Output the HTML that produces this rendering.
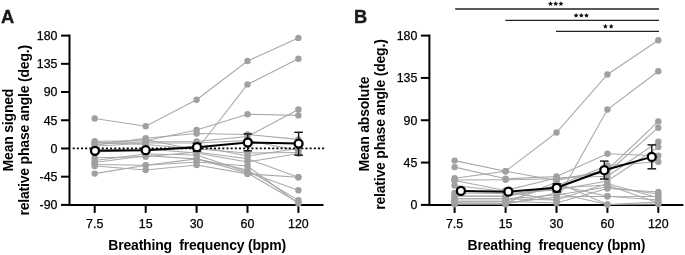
<!DOCTYPE html>
<html><head><meta charset="utf-8"><style>
html,body{margin:0;padding:0;background:#fff;}
svg{display:block;will-change:transform;}
text{font-family:"Liberation Sans",sans-serif;fill:#000;}
.tl{font-size:12.4px;stroke:#000;stroke-width:0.25px;}
.ti{font-size:14px;font-weight:bold;white-space:pre;letter-spacing:-0.2px;}
.pl{font-size:18.3px;font-weight:bold;fill:#1a1a1a;stroke:#1a1a1a;stroke-width:0.35px;}
.st{font-size:13px;font-weight:bold;letter-spacing:0.5px;}
</style></head><body>
<svg width="685" height="255" viewBox="0 0 685 255">
<text x="1" y="22.5" class="pl">A</text>
<text x="354" y="22.5" class="pl">B</text>
<g transform="translate(12.7,130.1) rotate(-90)"><text x="0" y="0" text-anchor="middle" class="ti">Mean signed</text></g>
<g transform="translate(29.0,130.3) rotate(-90)"><text x="0" y="0" text-anchor="middle" class="ti">relative phase angle (deg.)</text></g>
<g transform="translate(368.6,124.1) rotate(-90)"><text x="0" y="0" text-anchor="middle" class="ti">Mean absolute</text></g>
<g transform="translate(384.8,124.6) rotate(-90)"><text x="0" y="0" text-anchor="middle" class="ti">relative phase angle (deg.)</text></g>
<line x1="69.5" y1="34.6" x2="69.5" y2="205.9" stroke="#000" stroke-width="2"/>
<line x1="61.0" y1="35.60" x2="69.5" y2="35.60" stroke="#000" stroke-width="2"/>
<text x="57.5" y="39.90" text-anchor="end" class="tl">180</text>
<line x1="61.0" y1="63.82" x2="69.5" y2="63.82" stroke="#000" stroke-width="2"/>
<text x="57.5" y="68.12" text-anchor="end" class="tl">135</text>
<line x1="61.0" y1="92.03" x2="69.5" y2="92.03" stroke="#000" stroke-width="2"/>
<text x="57.5" y="96.33" text-anchor="end" class="tl">90</text>
<line x1="61.0" y1="120.25" x2="69.5" y2="120.25" stroke="#000" stroke-width="2"/>
<text x="57.5" y="124.55" text-anchor="end" class="tl">45</text>
<line x1="61.0" y1="148.47" x2="69.5" y2="148.47" stroke="#000" stroke-width="2"/>
<text x="57.5" y="152.77" text-anchor="end" class="tl">0</text>
<line x1="61.0" y1="176.68" x2="69.5" y2="176.68" stroke="#000" stroke-width="2"/>
<text x="57.5" y="180.98" text-anchor="end" class="tl">-45</text>
<line x1="61.0" y1="204.90" x2="69.5" y2="204.90" stroke="#000" stroke-width="2"/>
<text x="57.5" y="209.20" text-anchor="end" class="tl">-90</text>
<line x1="68.5" y1="204.9" x2="323.5" y2="204.9" stroke="#000" stroke-width="2"/>
<line x1="94.7" y1="204.9" x2="94.7" y2="212.9" stroke="#000" stroke-width="2"/>
<text x="94.7" y="227.5" text-anchor="middle" class="tl">7.5</text>
<line x1="145.7" y1="204.9" x2="145.7" y2="212.9" stroke="#000" stroke-width="2"/>
<text x="145.7" y="227.5" text-anchor="middle" class="tl">15</text>
<line x1="196.6" y1="204.9" x2="196.6" y2="212.9" stroke="#000" stroke-width="2"/>
<text x="196.6" y="227.5" text-anchor="middle" class="tl">30</text>
<line x1="247.5" y1="204.9" x2="247.5" y2="212.9" stroke="#000" stroke-width="2"/>
<text x="247.5" y="227.5" text-anchor="middle" class="tl">60</text>
<line x1="298.4" y1="204.9" x2="298.4" y2="212.9" stroke="#000" stroke-width="2"/>
<text x="298.4" y="227.5" text-anchor="middle" class="tl">120</text>
<text x="197.1" y="249.7" text-anchor="middle" class="ti">Breathing  frequency (bpm)</text>
<line x1="429.4" y1="34.6" x2="429.4" y2="205.9" stroke="#000" stroke-width="2"/>
<line x1="420.9" y1="35.60" x2="429.4" y2="35.60" stroke="#000" stroke-width="2"/>
<text x="417.4" y="39.90" text-anchor="end" class="tl">180</text>
<line x1="420.9" y1="77.93" x2="429.4" y2="77.93" stroke="#000" stroke-width="2"/>
<text x="417.4" y="82.23" text-anchor="end" class="tl">135</text>
<line x1="420.9" y1="120.25" x2="429.4" y2="120.25" stroke="#000" stroke-width="2"/>
<text x="417.4" y="124.55" text-anchor="end" class="tl">90</text>
<line x1="420.9" y1="162.57" x2="429.4" y2="162.57" stroke="#000" stroke-width="2"/>
<text x="417.4" y="166.88" text-anchor="end" class="tl">45</text>
<line x1="420.9" y1="204.90" x2="429.4" y2="204.90" stroke="#000" stroke-width="2"/>
<text x="417.4" y="209.20" text-anchor="end" class="tl">0</text>
<line x1="428.4" y1="204.9" x2="683.4" y2="204.9" stroke="#000" stroke-width="2"/>
<line x1="454.59999999999997" y1="204.9" x2="454.59999999999997" y2="212.9" stroke="#000" stroke-width="2"/>
<text x="454.59999999999997" y="227.5" text-anchor="middle" class="tl">7.5</text>
<line x1="505.59999999999997" y1="204.9" x2="505.59999999999997" y2="212.9" stroke="#000" stroke-width="2"/>
<text x="505.59999999999997" y="227.5" text-anchor="middle" class="tl">15</text>
<line x1="556.5" y1="204.9" x2="556.5" y2="212.9" stroke="#000" stroke-width="2"/>
<text x="556.5" y="227.5" text-anchor="middle" class="tl">30</text>
<line x1="607.4" y1="204.9" x2="607.4" y2="212.9" stroke="#000" stroke-width="2"/>
<text x="607.4" y="227.5" text-anchor="middle" class="tl">60</text>
<line x1="658.3" y1="204.9" x2="658.3" y2="212.9" stroke="#000" stroke-width="2"/>
<text x="658.3" y="227.5" text-anchor="middle" class="tl">120</text>
<text x="556.4" y="249.7" text-anchor="middle" class="ti">Breathing  frequency (bpm)</text>
<polyline points="94.7,118.5 145.7,126.3 196.6,99.8 247.5,61.0 298.4,37.9" fill="none" stroke="#a9a9a9" stroke-width="1.1"/>
<polyline points="94.7,143.3 145.7,139.5 196.6,150.0 247.5,84.4 298.4,58.8" fill="none" stroke="#a9a9a9" stroke-width="1.1"/>
<polyline points="94.7,141.3 145.7,140.8 196.6,130.0 247.5,114.2 298.4,115.4" fill="none" stroke="#a9a9a9" stroke-width="1.1"/>
<polyline points="94.7,144.3 145.7,141.8 196.6,141.5 247.5,136.5 298.4,109.5" fill="none" stroke="#a9a9a9" stroke-width="1.1"/>
<polyline points="94.7,145.3 145.7,138.2 196.6,133.5 247.5,134.5 298.4,139.4" fill="none" stroke="#a9a9a9" stroke-width="1.1"/>
<polyline points="94.7,146.3 145.7,143.0 196.6,143.0 247.5,140.5 298.4,150.5" fill="none" stroke="#a9a9a9" stroke-width="1.1"/>
<polyline points="94.7,142.3 145.7,144.5 196.6,149.0 247.5,153.0 298.4,152.5" fill="none" stroke="#a9a9a9" stroke-width="1.1"/>
<polyline points="94.7,157.8 145.7,156.7 196.6,152.0 247.5,158.8 298.4,177.2" fill="none" stroke="#a9a9a9" stroke-width="1.1"/>
<polyline points="94.7,160.5 145.7,154.0 196.6,155.0 247.5,171.9 298.4,190.2" fill="none" stroke="#a9a9a9" stroke-width="1.1"/>
<polyline points="94.7,162.5 145.7,155.8 196.6,158.9 247.5,170.0 298.4,200.1" fill="none" stroke="#a9a9a9" stroke-width="1.1"/>
<polyline points="94.7,164.5 145.7,165.2 196.6,158.9 247.5,173.0 298.4,202.4" fill="none" stroke="#a9a9a9" stroke-width="1.1"/>
<polyline points="94.7,166.0 145.7,170.0 196.6,165.0 247.5,173.9 298.4,177.2" fill="none" stroke="#a9a9a9" stroke-width="1.1"/>
<polyline points="94.7,173.6 145.7,165.2 196.6,162.0 247.5,166.0 298.4,203.5" fill="none" stroke="#a9a9a9" stroke-width="1.1"/>
<polyline points="94.7,152.0 145.7,150.0 196.6,146.0 247.5,156.0 298.4,148.5" fill="none" stroke="#a9a9a9" stroke-width="1.1"/>
<polyline points="94.7,150.0 145.7,149.0 196.6,153.0 247.5,162.0 298.4,153.5" fill="none" stroke="#a9a9a9" stroke-width="1.1"/>
<circle cx="94.7" cy="118.5" r="3.2" fill="#a0a0a0"/>
<circle cx="145.7" cy="126.3" r="3.2" fill="#a0a0a0"/>
<circle cx="196.6" cy="99.8" r="3.2" fill="#a0a0a0"/>
<circle cx="247.5" cy="61.0" r="3.2" fill="#a0a0a0"/>
<circle cx="298.4" cy="37.9" r="3.2" fill="#a0a0a0"/>
<circle cx="94.7" cy="143.3" r="3.2" fill="#a0a0a0"/>
<circle cx="145.7" cy="139.5" r="3.2" fill="#a0a0a0"/>
<circle cx="196.6" cy="150.0" r="3.2" fill="#a0a0a0"/>
<circle cx="247.5" cy="84.4" r="3.2" fill="#a0a0a0"/>
<circle cx="298.4" cy="58.8" r="3.2" fill="#a0a0a0"/>
<circle cx="94.7" cy="141.3" r="3.2" fill="#a0a0a0"/>
<circle cx="145.7" cy="140.8" r="3.2" fill="#a0a0a0"/>
<circle cx="196.6" cy="130.0" r="3.2" fill="#a0a0a0"/>
<circle cx="247.5" cy="114.2" r="3.2" fill="#a0a0a0"/>
<circle cx="298.4" cy="115.4" r="3.2" fill="#a0a0a0"/>
<circle cx="94.7" cy="144.3" r="3.2" fill="#a0a0a0"/>
<circle cx="145.7" cy="141.8" r="3.2" fill="#a0a0a0"/>
<circle cx="196.6" cy="141.5" r="3.2" fill="#a0a0a0"/>
<circle cx="247.5" cy="136.5" r="3.2" fill="#a0a0a0"/>
<circle cx="298.4" cy="109.5" r="3.2" fill="#a0a0a0"/>
<circle cx="94.7" cy="145.3" r="3.2" fill="#a0a0a0"/>
<circle cx="145.7" cy="138.2" r="3.2" fill="#a0a0a0"/>
<circle cx="196.6" cy="133.5" r="3.2" fill="#a0a0a0"/>
<circle cx="247.5" cy="134.5" r="3.2" fill="#a0a0a0"/>
<circle cx="298.4" cy="139.4" r="3.2" fill="#a0a0a0"/>
<circle cx="94.7" cy="146.3" r="3.2" fill="#a0a0a0"/>
<circle cx="145.7" cy="143.0" r="3.2" fill="#a0a0a0"/>
<circle cx="196.6" cy="143.0" r="3.2" fill="#a0a0a0"/>
<circle cx="247.5" cy="140.5" r="3.2" fill="#a0a0a0"/>
<circle cx="298.4" cy="150.5" r="3.2" fill="#a0a0a0"/>
<circle cx="94.7" cy="142.3" r="3.2" fill="#a0a0a0"/>
<circle cx="145.7" cy="144.5" r="3.2" fill="#a0a0a0"/>
<circle cx="196.6" cy="149.0" r="3.2" fill="#a0a0a0"/>
<circle cx="247.5" cy="153.0" r="3.2" fill="#a0a0a0"/>
<circle cx="298.4" cy="152.5" r="3.2" fill="#a0a0a0"/>
<circle cx="94.7" cy="157.8" r="3.2" fill="#a0a0a0"/>
<circle cx="145.7" cy="156.7" r="3.2" fill="#a0a0a0"/>
<circle cx="196.6" cy="152.0" r="3.2" fill="#a0a0a0"/>
<circle cx="247.5" cy="158.8" r="3.2" fill="#a0a0a0"/>
<circle cx="298.4" cy="177.2" r="3.2" fill="#a0a0a0"/>
<circle cx="94.7" cy="160.5" r="3.2" fill="#a0a0a0"/>
<circle cx="145.7" cy="154.0" r="3.2" fill="#a0a0a0"/>
<circle cx="196.6" cy="155.0" r="3.2" fill="#a0a0a0"/>
<circle cx="247.5" cy="171.9" r="3.2" fill="#a0a0a0"/>
<circle cx="298.4" cy="190.2" r="3.2" fill="#a0a0a0"/>
<circle cx="94.7" cy="162.5" r="3.2" fill="#a0a0a0"/>
<circle cx="145.7" cy="155.8" r="3.2" fill="#a0a0a0"/>
<circle cx="196.6" cy="158.9" r="3.2" fill="#a0a0a0"/>
<circle cx="247.5" cy="170.0" r="3.2" fill="#a0a0a0"/>
<circle cx="298.4" cy="200.1" r="3.2" fill="#a0a0a0"/>
<circle cx="94.7" cy="164.5" r="3.2" fill="#a0a0a0"/>
<circle cx="145.7" cy="165.2" r="3.2" fill="#a0a0a0"/>
<circle cx="196.6" cy="158.9" r="3.2" fill="#a0a0a0"/>
<circle cx="247.5" cy="173.0" r="3.2" fill="#a0a0a0"/>
<circle cx="298.4" cy="202.4" r="3.2" fill="#a0a0a0"/>
<circle cx="94.7" cy="166.0" r="3.2" fill="#a0a0a0"/>
<circle cx="145.7" cy="170.0" r="3.2" fill="#a0a0a0"/>
<circle cx="196.6" cy="165.0" r="3.2" fill="#a0a0a0"/>
<circle cx="247.5" cy="173.9" r="3.2" fill="#a0a0a0"/>
<circle cx="298.4" cy="177.2" r="3.2" fill="#a0a0a0"/>
<circle cx="94.7" cy="173.6" r="3.2" fill="#a0a0a0"/>
<circle cx="145.7" cy="165.2" r="3.2" fill="#a0a0a0"/>
<circle cx="196.6" cy="162.0" r="3.2" fill="#a0a0a0"/>
<circle cx="247.5" cy="166.0" r="3.2" fill="#a0a0a0"/>
<circle cx="298.4" cy="203.5" r="3.2" fill="#a0a0a0"/>
<circle cx="94.7" cy="152.0" r="3.2" fill="#a0a0a0"/>
<circle cx="145.7" cy="150.0" r="3.2" fill="#a0a0a0"/>
<circle cx="196.6" cy="146.0" r="3.2" fill="#a0a0a0"/>
<circle cx="247.5" cy="156.0" r="3.2" fill="#a0a0a0"/>
<circle cx="298.4" cy="148.5" r="3.2" fill="#a0a0a0"/>
<circle cx="94.7" cy="150.0" r="3.2" fill="#a0a0a0"/>
<circle cx="145.7" cy="149.0" r="3.2" fill="#a0a0a0"/>
<circle cx="196.6" cy="153.0" r="3.2" fill="#a0a0a0"/>
<circle cx="247.5" cy="162.0" r="3.2" fill="#a0a0a0"/>
<circle cx="298.4" cy="153.5" r="3.2" fill="#a0a0a0"/>
<line x1="72.7" y1="148.3" x2="325" y2="148.3" stroke="#000" stroke-width="1.7" stroke-dasharray="2 2.157"/>
<line x1="95.0" y1="148.5" x2="95.0" y2="152.3" stroke="#111" stroke-width="1.4"/>
<line x1="90.7" y1="148.5" x2="99.3" y2="148.5" stroke="#111" stroke-width="1.4"/>
<line x1="90.7" y1="152.3" x2="99.3" y2="152.3" stroke="#111" stroke-width="1.4"/>
<line x1="145.7" y1="148" x2="145.7" y2="151.8" stroke="#111" stroke-width="1.4"/>
<line x1="141.39999999999998" y1="148" x2="150.0" y2="148" stroke="#111" stroke-width="1.4"/>
<line x1="141.39999999999998" y1="151.8" x2="150.0" y2="151.8" stroke="#111" stroke-width="1.4"/>
<line x1="197.0" y1="143.3" x2="197.0" y2="151.2" stroke="#111" stroke-width="1.4"/>
<line x1="192.7" y1="143.3" x2="201.3" y2="143.3" stroke="#111" stroke-width="1.4"/>
<line x1="192.7" y1="151.2" x2="201.3" y2="151.2" stroke="#111" stroke-width="1.4"/>
<line x1="247.8" y1="133.9" x2="247.8" y2="150.8" stroke="#111" stroke-width="1.4"/>
<line x1="243.5" y1="133.9" x2="252.10000000000002" y2="133.9" stroke="#111" stroke-width="1.4"/>
<line x1="243.5" y1="150.8" x2="252.10000000000002" y2="150.8" stroke="#111" stroke-width="1.4"/>
<line x1="298.6" y1="132.3" x2="298.6" y2="155.2" stroke="#111" stroke-width="1.4"/>
<line x1="294.3" y1="132.3" x2="302.90000000000003" y2="132.3" stroke="#111" stroke-width="1.4"/>
<line x1="294.3" y1="155.2" x2="302.90000000000003" y2="155.2" stroke="#111" stroke-width="1.4"/>
<polyline points="95.0,150.8 145.7,150.2 197.0,147.2 247.8,142.5 298.6,143.6" fill="none" stroke="#000" stroke-width="2.0"/>
<circle cx="95.0" cy="150.8" r="4.0" fill="#fff" stroke="#000" stroke-width="2.3"/>
<circle cx="145.7" cy="150.2" r="4.0" fill="#fff" stroke="#000" stroke-width="2.3"/>
<circle cx="197.0" cy="147.2" r="4.0" fill="#fff" stroke="#000" stroke-width="2.3"/>
<circle cx="247.8" cy="142.5" r="4.0" fill="#fff" stroke="#000" stroke-width="2.3"/>
<circle cx="298.6" cy="143.6" r="4.0" fill="#fff" stroke="#000" stroke-width="2.3"/>
<polyline points="454.6,178.2 505.6,171.2 556.5,132.5 607.4,74.5 658.3,40.2" fill="none" stroke="#a9a9a9" stroke-width="1.1"/>
<polyline points="454.6,185.5 505.6,191.5 556.5,200.3 607.4,109.5 658.3,71.2" fill="none" stroke="#a9a9a9" stroke-width="1.1"/>
<polyline points="454.6,167.1 505.6,178.8 556.5,176.5 607.4,153.8 658.3,155.8" fill="none" stroke="#a9a9a9" stroke-width="1.1"/>
<polyline points="454.6,160.6 505.6,171.2 556.5,180.5 607.4,170.0 658.3,121.4" fill="none" stroke="#a9a9a9" stroke-width="1.1"/>
<polyline points="454.6,180.0 505.6,179.8 556.5,178.8 607.4,172.6 658.3,127.7" fill="none" stroke="#a9a9a9" stroke-width="1.1"/>
<polyline points="454.6,180.5 505.6,190.5 556.5,178.0 607.4,176.3 658.3,141.8" fill="none" stroke="#a9a9a9" stroke-width="1.1"/>
<polyline points="454.6,193.0 505.6,193.5 556.5,190.0 607.4,181.0 658.3,147.0" fill="none" stroke="#a9a9a9" stroke-width="1.1"/>
<polyline points="454.6,196.0 505.6,196.3 556.5,186.0 607.4,165.5 658.3,161.8" fill="none" stroke="#a9a9a9" stroke-width="1.1"/>
<polyline points="454.6,198.8 505.6,198.8 556.5,200.0 607.4,183.5 658.3,197.8" fill="none" stroke="#a9a9a9" stroke-width="1.1"/>
<polyline points="454.6,201.2 505.6,201.3 556.5,203.0 607.4,188.5 658.3,192.0" fill="none" stroke="#a9a9a9" stroke-width="1.1"/>
<polyline points="454.6,201.2 505.6,201.3 556.5,185.0 607.4,196.2 658.3,196.5" fill="none" stroke="#a9a9a9" stroke-width="1.1"/>
<polyline points="454.6,203.0 505.6,203.2 556.5,182.0 607.4,204.5 658.3,204.0" fill="none" stroke="#a9a9a9" stroke-width="1.1"/>
<polyline points="454.6,203.0 505.6,203.2 556.5,197.0 607.4,196.2 658.3,200.0" fill="none" stroke="#a9a9a9" stroke-width="1.1"/>
<polyline points="454.6,204.2 505.6,204.2 556.5,193.0 607.4,204.5 658.3,202.0" fill="none" stroke="#a9a9a9" stroke-width="1.1"/>
<polyline points="454.6,196.0 505.6,196.3 556.5,188.0 607.4,185.0 658.3,203.0" fill="none" stroke="#a9a9a9" stroke-width="1.1"/>
<polyline points="454.6,198.8 505.6,198.8 556.5,195.0 607.4,187.0 658.3,194.0" fill="none" stroke="#a9a9a9" stroke-width="1.1"/>
<circle cx="454.6" cy="178.2" r="3.2" fill="#a0a0a0"/>
<circle cx="505.6" cy="171.2" r="3.2" fill="#a0a0a0"/>
<circle cx="556.5" cy="132.5" r="3.2" fill="#a0a0a0"/>
<circle cx="607.4" cy="74.5" r="3.2" fill="#a0a0a0"/>
<circle cx="658.3" cy="40.2" r="3.2" fill="#a0a0a0"/>
<circle cx="454.6" cy="185.5" r="3.2" fill="#a0a0a0"/>
<circle cx="505.6" cy="191.5" r="3.2" fill="#a0a0a0"/>
<circle cx="556.5" cy="200.3" r="3.2" fill="#a0a0a0"/>
<circle cx="607.4" cy="109.5" r="3.2" fill="#a0a0a0"/>
<circle cx="658.3" cy="71.2" r="3.2" fill="#a0a0a0"/>
<circle cx="454.6" cy="167.1" r="3.2" fill="#a0a0a0"/>
<circle cx="505.6" cy="178.8" r="3.2" fill="#a0a0a0"/>
<circle cx="556.5" cy="176.5" r="3.2" fill="#a0a0a0"/>
<circle cx="607.4" cy="153.8" r="3.2" fill="#a0a0a0"/>
<circle cx="658.3" cy="155.8" r="3.2" fill="#a0a0a0"/>
<circle cx="454.6" cy="160.6" r="3.2" fill="#a0a0a0"/>
<circle cx="505.6" cy="171.2" r="3.2" fill="#a0a0a0"/>
<circle cx="556.5" cy="180.5" r="3.2" fill="#a0a0a0"/>
<circle cx="607.4" cy="170.0" r="3.2" fill="#a0a0a0"/>
<circle cx="658.3" cy="121.4" r="3.2" fill="#a0a0a0"/>
<circle cx="454.6" cy="180.0" r="3.2" fill="#a0a0a0"/>
<circle cx="505.6" cy="179.8" r="3.2" fill="#a0a0a0"/>
<circle cx="556.5" cy="178.8" r="3.2" fill="#a0a0a0"/>
<circle cx="607.4" cy="172.6" r="3.2" fill="#a0a0a0"/>
<circle cx="658.3" cy="127.7" r="3.2" fill="#a0a0a0"/>
<circle cx="454.6" cy="180.5" r="3.2" fill="#a0a0a0"/>
<circle cx="505.6" cy="190.5" r="3.2" fill="#a0a0a0"/>
<circle cx="556.5" cy="178.0" r="3.2" fill="#a0a0a0"/>
<circle cx="607.4" cy="176.3" r="3.2" fill="#a0a0a0"/>
<circle cx="658.3" cy="141.8" r="3.2" fill="#a0a0a0"/>
<circle cx="454.6" cy="193.0" r="3.2" fill="#a0a0a0"/>
<circle cx="505.6" cy="193.5" r="3.2" fill="#a0a0a0"/>
<circle cx="556.5" cy="190.0" r="3.2" fill="#a0a0a0"/>
<circle cx="607.4" cy="181.0" r="3.2" fill="#a0a0a0"/>
<circle cx="658.3" cy="147.0" r="3.2" fill="#a0a0a0"/>
<circle cx="454.6" cy="196.0" r="3.2" fill="#a0a0a0"/>
<circle cx="505.6" cy="196.3" r="3.2" fill="#a0a0a0"/>
<circle cx="556.5" cy="186.0" r="3.2" fill="#a0a0a0"/>
<circle cx="607.4" cy="165.5" r="3.2" fill="#a0a0a0"/>
<circle cx="658.3" cy="161.8" r="3.2" fill="#a0a0a0"/>
<circle cx="454.6" cy="198.8" r="3.2" fill="#a0a0a0"/>
<circle cx="505.6" cy="198.8" r="3.2" fill="#a0a0a0"/>
<circle cx="556.5" cy="200.0" r="3.2" fill="#a0a0a0"/>
<circle cx="607.4" cy="183.5" r="3.2" fill="#a0a0a0"/>
<circle cx="658.3" cy="197.8" r="3.2" fill="#a0a0a0"/>
<circle cx="454.6" cy="201.2" r="3.2" fill="#a0a0a0"/>
<circle cx="505.6" cy="201.3" r="3.2" fill="#a0a0a0"/>
<circle cx="556.5" cy="203.0" r="3.2" fill="#a0a0a0"/>
<circle cx="607.4" cy="188.5" r="3.2" fill="#a0a0a0"/>
<circle cx="658.3" cy="192.0" r="3.2" fill="#a0a0a0"/>
<circle cx="454.6" cy="201.2" r="3.2" fill="#a0a0a0"/>
<circle cx="505.6" cy="201.3" r="3.2" fill="#a0a0a0"/>
<circle cx="556.5" cy="185.0" r="3.2" fill="#a0a0a0"/>
<circle cx="607.4" cy="196.2" r="3.2" fill="#a0a0a0"/>
<circle cx="658.3" cy="196.5" r="3.2" fill="#a0a0a0"/>
<circle cx="454.6" cy="203.0" r="3.2" fill="#a0a0a0"/>
<circle cx="505.6" cy="203.2" r="3.2" fill="#a0a0a0"/>
<circle cx="556.5" cy="182.0" r="3.2" fill="#a0a0a0"/>
<circle cx="607.4" cy="204.5" r="3.2" fill="#a0a0a0"/>
<circle cx="658.3" cy="204.0" r="3.2" fill="#a0a0a0"/>
<circle cx="454.6" cy="203.0" r="3.2" fill="#a0a0a0"/>
<circle cx="505.6" cy="203.2" r="3.2" fill="#a0a0a0"/>
<circle cx="556.5" cy="197.0" r="3.2" fill="#a0a0a0"/>
<circle cx="607.4" cy="196.2" r="3.2" fill="#a0a0a0"/>
<circle cx="658.3" cy="200.0" r="3.2" fill="#a0a0a0"/>
<circle cx="454.6" cy="204.2" r="3.2" fill="#a0a0a0"/>
<circle cx="505.6" cy="204.2" r="3.2" fill="#a0a0a0"/>
<circle cx="556.5" cy="193.0" r="3.2" fill="#a0a0a0"/>
<circle cx="607.4" cy="204.5" r="3.2" fill="#a0a0a0"/>
<circle cx="658.3" cy="202.0" r="3.2" fill="#a0a0a0"/>
<circle cx="454.6" cy="196.0" r="3.2" fill="#a0a0a0"/>
<circle cx="505.6" cy="196.3" r="3.2" fill="#a0a0a0"/>
<circle cx="556.5" cy="188.0" r="3.2" fill="#a0a0a0"/>
<circle cx="607.4" cy="185.0" r="3.2" fill="#a0a0a0"/>
<circle cx="658.3" cy="203.0" r="3.2" fill="#a0a0a0"/>
<circle cx="454.6" cy="198.8" r="3.2" fill="#a0a0a0"/>
<circle cx="505.6" cy="198.8" r="3.2" fill="#a0a0a0"/>
<circle cx="556.5" cy="195.0" r="3.2" fill="#a0a0a0"/>
<circle cx="607.4" cy="187.0" r="3.2" fill="#a0a0a0"/>
<circle cx="658.3" cy="194.0" r="3.2" fill="#a0a0a0"/>
<line x1="460.9" y1="188.5" x2="460.9" y2="193.3" stroke="#111" stroke-width="1.4"/>
<line x1="456.59999999999997" y1="188.5" x2="465.2" y2="188.5" stroke="#111" stroke-width="1.4"/>
<line x1="456.59999999999997" y1="193.3" x2="465.2" y2="193.3" stroke="#111" stroke-width="1.4"/>
<line x1="508.4" y1="189.5" x2="508.4" y2="194" stroke="#111" stroke-width="1.4"/>
<line x1="504.09999999999997" y1="189.5" x2="512.6999999999999" y2="189.5" stroke="#111" stroke-width="1.4"/>
<line x1="504.09999999999997" y1="194" x2="512.6999999999999" y2="194" stroke="#111" stroke-width="1.4"/>
<line x1="556.7" y1="183.9" x2="556.7" y2="191.9" stroke="#111" stroke-width="1.4"/>
<line x1="552.4000000000001" y1="183.9" x2="561.0" y2="183.9" stroke="#111" stroke-width="1.4"/>
<line x1="552.4000000000001" y1="191.9" x2="561.0" y2="191.9" stroke="#111" stroke-width="1.4"/>
<line x1="604.3" y1="161.1" x2="604.3" y2="179.0" stroke="#111" stroke-width="1.4"/>
<line x1="600.0" y1="161.1" x2="608.5999999999999" y2="161.1" stroke="#111" stroke-width="1.4"/>
<line x1="600.0" y1="179.0" x2="608.5999999999999" y2="179.0" stroke="#111" stroke-width="1.4"/>
<line x1="651.8" y1="144.9" x2="651.8" y2="168.8" stroke="#111" stroke-width="1.4"/>
<line x1="647.5" y1="144.9" x2="656.0999999999999" y2="144.9" stroke="#111" stroke-width="1.4"/>
<line x1="647.5" y1="168.8" x2="656.0999999999999" y2="168.8" stroke="#111" stroke-width="1.4"/>
<polyline points="460.9,190.9 508.4,191.7 556.7,187.8 604.3,170.2 651.8,156.9" fill="none" stroke="#000" stroke-width="2.0"/>
<circle cx="460.9" cy="190.9" r="4.0" fill="#fff" stroke="#000" stroke-width="2.3"/>
<circle cx="508.4" cy="191.7" r="4.0" fill="#fff" stroke="#000" stroke-width="2.3"/>
<circle cx="556.7" cy="187.8" r="4.0" fill="#fff" stroke="#000" stroke-width="2.3"/>
<circle cx="604.3" cy="170.2" r="4.0" fill="#fff" stroke="#000" stroke-width="2.3"/>
<circle cx="651.8" cy="156.9" r="4.0" fill="#fff" stroke="#000" stroke-width="2.3"/>
<line x1="455.2" y1="9.0" x2="659" y2="9.0" stroke="#222" stroke-width="1.3"/>
<line x1="505.4" y1="20.4" x2="659" y2="20.4" stroke="#222" stroke-width="1.3"/>
<line x1="556.0" y1="31.4" x2="659" y2="31.4" stroke="#222" stroke-width="1.3"/>
<polygon points="550.50,1.20 551.23,2.79 552.97,3.00 551.69,4.19 552.03,5.90 550.50,5.05 548.97,5.90 549.31,4.19 548.03,3.00 549.77,2.79" fill="#111"/>
<polygon points="555.70,1.20 556.43,2.79 558.17,3.00 556.89,4.19 557.23,5.90 555.70,5.05 554.17,5.90 554.51,4.19 553.23,3.00 554.97,2.79" fill="#111"/>
<polygon points="560.90,1.20 561.63,2.79 563.37,3.00 562.09,4.19 562.43,5.90 560.90,5.05 559.37,5.90 559.71,4.19 558.43,3.00 560.17,2.79" fill="#111"/>
<polygon points="576.10,12.90 576.83,14.49 578.57,14.70 577.29,15.89 577.63,17.60 576.10,16.75 574.57,17.60 574.91,15.89 573.63,14.70 575.37,14.49" fill="#111"/>
<polygon points="581.30,12.90 582.03,14.49 583.77,14.70 582.49,15.89 582.83,17.60 581.30,16.75 579.77,17.60 580.11,15.89 578.83,14.70 580.57,14.49" fill="#111"/>
<polygon points="586.50,12.90 587.23,14.49 588.97,14.70 587.69,15.89 588.03,17.60 586.50,16.75 584.97,17.60 585.31,15.89 584.03,14.70 585.77,14.49" fill="#111"/>
<polygon points="605.40,23.80 606.13,25.39 607.87,25.60 606.59,26.79 606.93,28.50 605.40,27.65 603.87,28.50 604.21,26.79 602.93,25.60 604.67,25.39" fill="#111"/>
<polygon points="611.20,23.80 611.93,25.39 613.67,25.60 612.39,26.79 612.73,28.50 611.20,27.65 609.67,28.50 610.01,26.79 608.73,25.60 610.47,25.39" fill="#111"/>
</svg>
</body></html>
